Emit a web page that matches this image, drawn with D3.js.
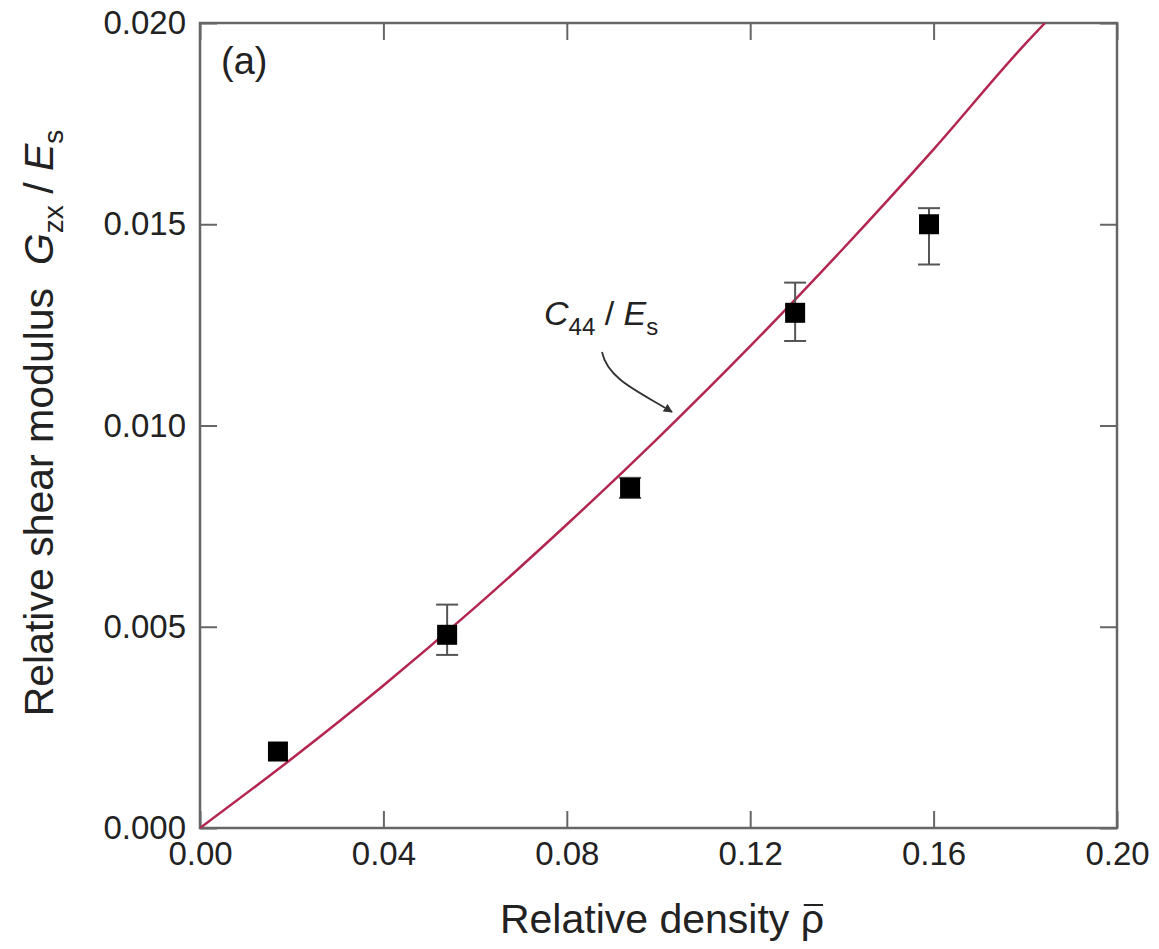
<!DOCTYPE html>
<html>
<head>
<meta charset="utf-8">
<script src="https://cdn.jsdelivr.net/npm/d3@7"></script>
<style>
  body { margin: 0; background: #fff; }
  text { font-family: "Liberation Sans", Arial, sans-serif; fill: #222; }
</style>
</head>
<body>
<script>
// measured points: relative density, G_zx/E_s and error bar ends
var density = [0.0170, 0.0539, 0.0938, 0.1298, 0.1590];
var modulus = [0.0019, 0.0048, 0.00845, 0.0128, 0.0150];
var errLow  = [0.0019, 0.0043, 0.0082, 0.0121, 0.0140];
var errHigh = [0.0019, 0.00555, 0.0087, 0.01355, 0.0154];

// C44/Es curve
var curveX = [0, 0.02, 0.04, 0.06, 0.08, 0.10, 0.12, 0.14, 0.16, 0.18, 0.1843];
var curveY = [0, 0.00172, 0.00354, 0.00548, 0.00754, 0.0097, 0.01197, 0.01436, 0.01686, 0.01948, 0.0200];

var xTicks = [0, 0.04, 0.08, 0.12, 0.16, 0.20];
var yTicks = [0, 0.005, 0.010, 0.015, 0.020];

var w = 1159;
var h = 949;
var plotL = 200, plotR = 1117, plotT = 23, plotB = 828;

var x = d3.scaleLinear().domain([0, 0.2]).range([plotL, plotR]);
var y = d3.scaleLinear().domain([0, 0.02]).range([plotB, plotT]);

var svg = d3.select('body')
            .append('svg')
            .attr('width', w)
            .attr('height', h);

var defs = svg.append('defs');
defs.append('clipPath')
  .attr('id', 'plot')
  .append('rect')
    .attr('x', plotL).attr('y', plotT)
    .attr('width', plotR - plotL).attr('height', plotB - plotT);

var tickLen = 17;
var axisColor = '#666';

// inward ticks on all four sides
svg.append('g')
  .attr('transform', 'translate(0,' + plotB + ')')
  .call(d3.axisBottom(x).tickValues(xTicks).tickSize(-tickLen).tickFormat(d3.format('.2f')).tickPadding(14))
  .call(g => g.select('.domain').remove());
svg.append('g')
  .attr('transform', 'translate(0,' + plotT + ')')
  .call(d3.axisTop(x).tickValues(xTicks).tickSize(-tickLen).tickFormat(''))
  .call(g => g.select('.domain').remove());
svg.append('g')
  .attr('transform', 'translate(' + plotL + ',0)')
  .call(d3.axisLeft(y).tickValues(yTicks).tickSize(-tickLen).tickFormat(d3.format('.3f')).tickPadding(14))
  .call(g => g.select('.domain').remove());
svg.append('g')
  .attr('transform', 'translate(' + plotR + ',0)')
  .call(d3.axisRight(y).tickValues(yTicks).tickSize(-tickLen).tickFormat(''))
  .call(g => g.select('.domain').remove());

svg.selectAll('.tick line').attr('stroke', axisColor).attr('stroke-width', 2);
svg.selectAll('.tick text')
  .attr('font-size', '33px')
  .attr('fill', '#222')
  .attr('font-family', '"Liberation Sans", Arial, sans-serif');

svg.append('rect')
  .attr('x', plotL).attr('y', plotT)
  .attr('width', plotR - plotL).attr('height', plotB - plotT)
  .attr('fill', 'none')
  .attr('stroke', axisColor)
  .attr('stroke-width', 2.5);

// model curve
var line = d3.line()
  .x((d, i) => x(curveX[i]))
  .y((d, i) => y(curveY[i]))
  .curve(d3.curveMonotoneX);

svg.append('path')
  .datum(curveX)
  .attr('clip-path', 'url(#plot)')
  .attr('d', line)
  .attr('fill', 'none')
  .attr('stroke', '#b3264f')
  .attr('stroke-width', 2.5);

// error bars
var cap = 11;
var eb = svg.append('g').attr('stroke', '#555').attr('stroke-width', 2);
density.forEach((d, i) => {
  if (errHigh[i] - errLow[i] <= 0) return;
  eb.append('line')
    .attr('x1', x(d)).attr('x2', x(d))
    .attr('y1', y(errLow[i])).attr('y2', y(errHigh[i]));
  eb.append('line')
    .attr('x1', x(d) - cap).attr('x2', x(d) + cap)
    .attr('y1', y(errLow[i])).attr('y2', y(errLow[i]));
  eb.append('line')
    .attr('x1', x(d) - cap).attr('x2', x(d) + cap)
    .attr('y1', y(errHigh[i])).attr('y2', y(errHigh[i]));
});

// square markers
var ms = 20;
svg.selectAll('rect.pt')
  .data(density)
  .enter()
  .append('rect')
    .attr('class', 'pt')
    .attr('x', d => x(d) - ms / 2)
    .attr('y', (d, i) => y(modulus[i]) - ms / 2)
    .attr('width', ms)
    .attr('height', ms)
    .attr('fill', '#000');

// panel label
svg.append('text')
  .attr('x', 221).attr('y', 74)
  .attr('font-size', '38px')
  .text('(a)');

// curve label and arrow
var lab = svg.append('text')
  .attr('x', 544).attr('y', 325)
  .attr('font-size', '34px');
lab.append('tspan').attr('font-style', 'italic').text('C');
lab.append('tspan').attr('font-size', '24px').attr('dy', 10).text('44');
lab.append('tspan').attr('dy', -10).text(' / ');
lab.append('tspan').attr('font-style', 'italic').text('E');
lab.append('tspan').attr('font-size', '24px').attr('dy', 10).text('s');

defs.append('marker')
  .attr('id', 'arr')
  .attr('viewBox', '0 0 10 10')
  .attr('refX', 9).attr('refY', 5)
  .attr('markerWidth', 5).attr('markerHeight', 5)
  .attr('orient', 'auto')
  .append('path')
    .attr('d', 'M0,0 L10,5 L0,10 z')
    .attr('fill', '#333');

svg.append('path')
  .attr('d', 'M602,352 C608,380 640,392 672,412')
  .attr('fill', 'none')
  .attr('stroke', '#333')
  .attr('stroke-width', 1.8)
  .attr('marker-end', 'url(#arr)');

// x axis title, rho with a bar over it
var xLabel = 'Relative density ';
var xt = svg.append('text')
  .attr('x', 662).attr('y', 933)
  .attr('text-anchor', 'middle')
  .attr('font-size', '41px');
xt.append('tspan').text(xLabel);
xt.append('tspan').text('\u03c1');
var rho = xt.node().getExtentOfChar(xLabel.length);
svg.append('line')
  .attr('x1', rho.x + 3).attr('x2', rho.x + rho.width - 1)
  .attr('y1', 905).attr('y2', 905)
  .attr('stroke', '#222')
  .attr('stroke-width', 2);

// y axis title
var yt = svg.append('text')
  .attr('transform', 'translate(53,423) rotate(-90)')
  .attr('text-anchor', 'middle')
  .attr('font-size', '41px');
yt.append('tspan').text('Relative shear modulus\u00a0\u00a0');
yt.append('tspan').attr('font-style', 'italic').text('G');
yt.append('tspan').attr('font-size', '28px').attr('dy', 10).text('zx');
yt.append('tspan').attr('dy', -10).text(' / ');
yt.append('tspan').attr('font-style', 'italic').text('E');
yt.append('tspan').attr('font-size', '28px').attr('dy', 10).text('s');
</script>
</body>
</html>
